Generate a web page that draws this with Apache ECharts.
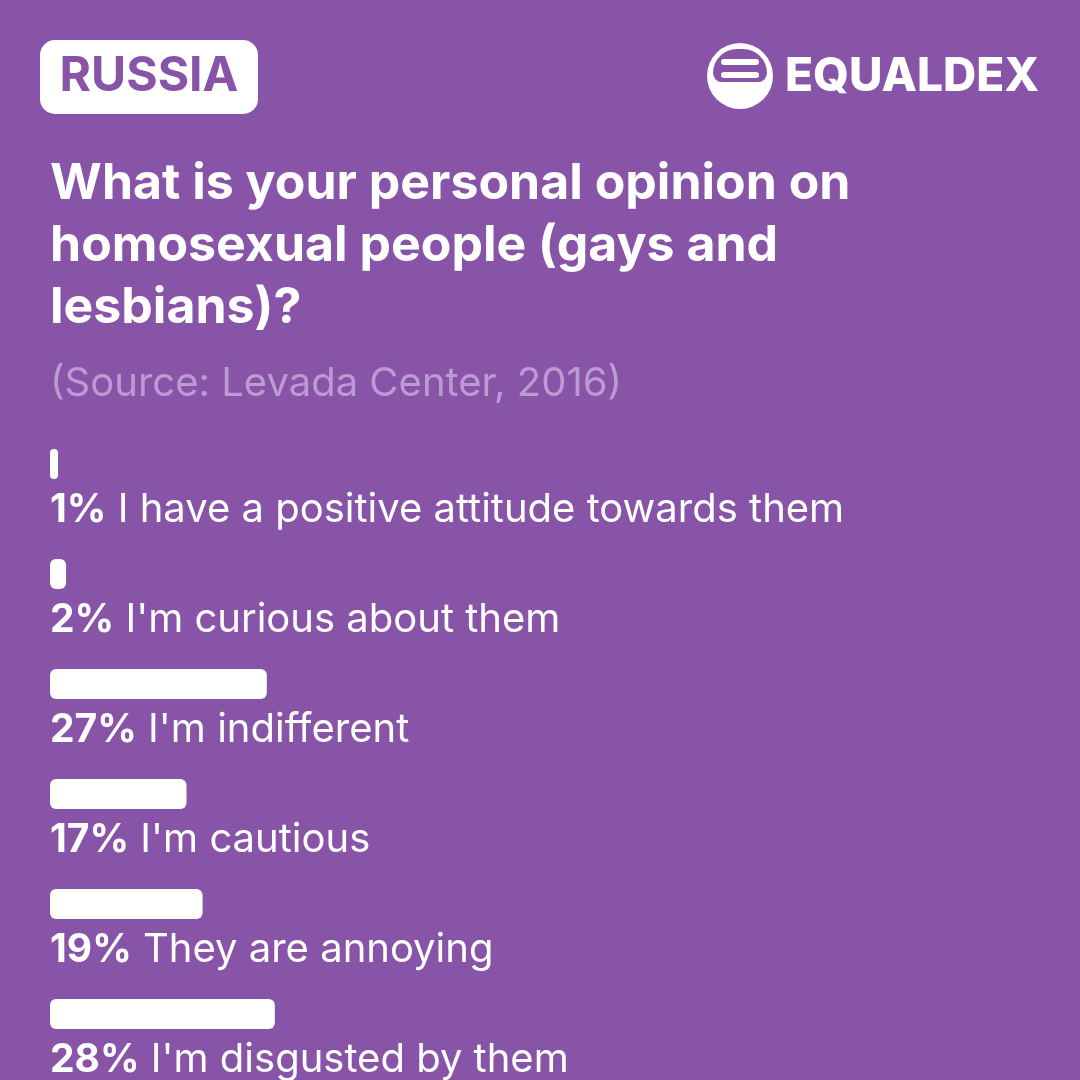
<!DOCTYPE html>
<html><head><meta charset="utf-8">
<script src="https://cdn.jsdelivr.net/npm/echarts@6/dist/echarts.min.js"></script>
<style>html,body{margin:0;padding:0;background:#8854A8;}#c{width:1080px;height:1080px;}</style>
</head><body><div id="c"></div>
<script>
const categories = ["I have a positive attitude towards them","I'm curious about them","I'm indifferent","I'm cautious","They are annoying","I'm disgusted by them"];
const values = [1, 2, 27, 17, 19, 28];
const countryLabel = "RUSSIA";
const brandLabel = "EQUALDEX";
const questionText = "What is your personal opinion on\nhomosexual people (gays and\nlesbians)?";
const sourceText = "(Source: Levada Center, 2016)";

const BG = '#8854A8';
const chart = echarts.init(document.getElementById('c'), null, {renderer:'canvas'});
chart.setOption({
  backgroundColor: BG,
  animation: false,
  textStyle: {fontFamily: 'Inter'},
  title: {
    text: questionText,
    subtext: sourceText,
    left: 50, top: 153,
    padding: 0,
    itemGap: 23,
    textStyle: {color:'#fff', fontFamily:'Inter', fontWeight:'bold', fontSize:50, lineHeight:62},
    subtextStyle: {color:'#BB9BD3', fontFamily:'Inter', fontSize:40, lineHeight:44}
  },
  grid: {left: 50, right: 227, top: 409, height: 660, containLabel: false},
  xAxis: {type:'value', min:0, max:100, show:false},
  yAxis: {type:'category', data: categories, inverse:true, show:false},
  series: [{
    type:'bar',
    data: values,
    barWidth: 30,
    itemStyle: {color:'#fff', borderRadius:6},
    label: {
      show: true,
      position: [0, 61],
      align: 'left',
      verticalAlign: 'middle',
      formatter: p => '{b|' + p.value + '%}{n| ' + p.name + '}',
      rich: {
        b: {color:'#fff', fontFamily:'Inter', fontWeight:'bold', fontSize:39},
        n: {color:'#fff', fontFamily:'Inter', fontSize:40}
      }
    }
  }],
  graphic: [
    {type:'rect', shape:{x:40, y:40, width:218, height:74, r:15}, style:{fill:'#fff'}},
    {type:'text', x:149, y:77, style:{text: countryLabel, fill: BG, font:'bold 48px Inter', align:'center', verticalAlign:'middle'}},
    {type:'circle', shape:{cx:740, cy:76, r:33}, style:{fill:'#fff'}},
    {type:'rect', shape:{x:713, y:49, width:54, height:33, r:[27,27,10,10]}, style:{fill:BG}},
    {type:'rect', shape:{x:721, y:59, width:38, height:6, r:3}, style:{fill:'#fff'}},
    {type:'rect', shape:{x:721, y:72, width:38, height:6, r:3}, style:{fill:'#fff'}},
    {type:'text', x:785, y:77, style:{text: brandLabel, fill:'#fff', font:'800 46px Inter', align:'left', verticalAlign:'middle'}}
  ]
});
</script></body></html>
